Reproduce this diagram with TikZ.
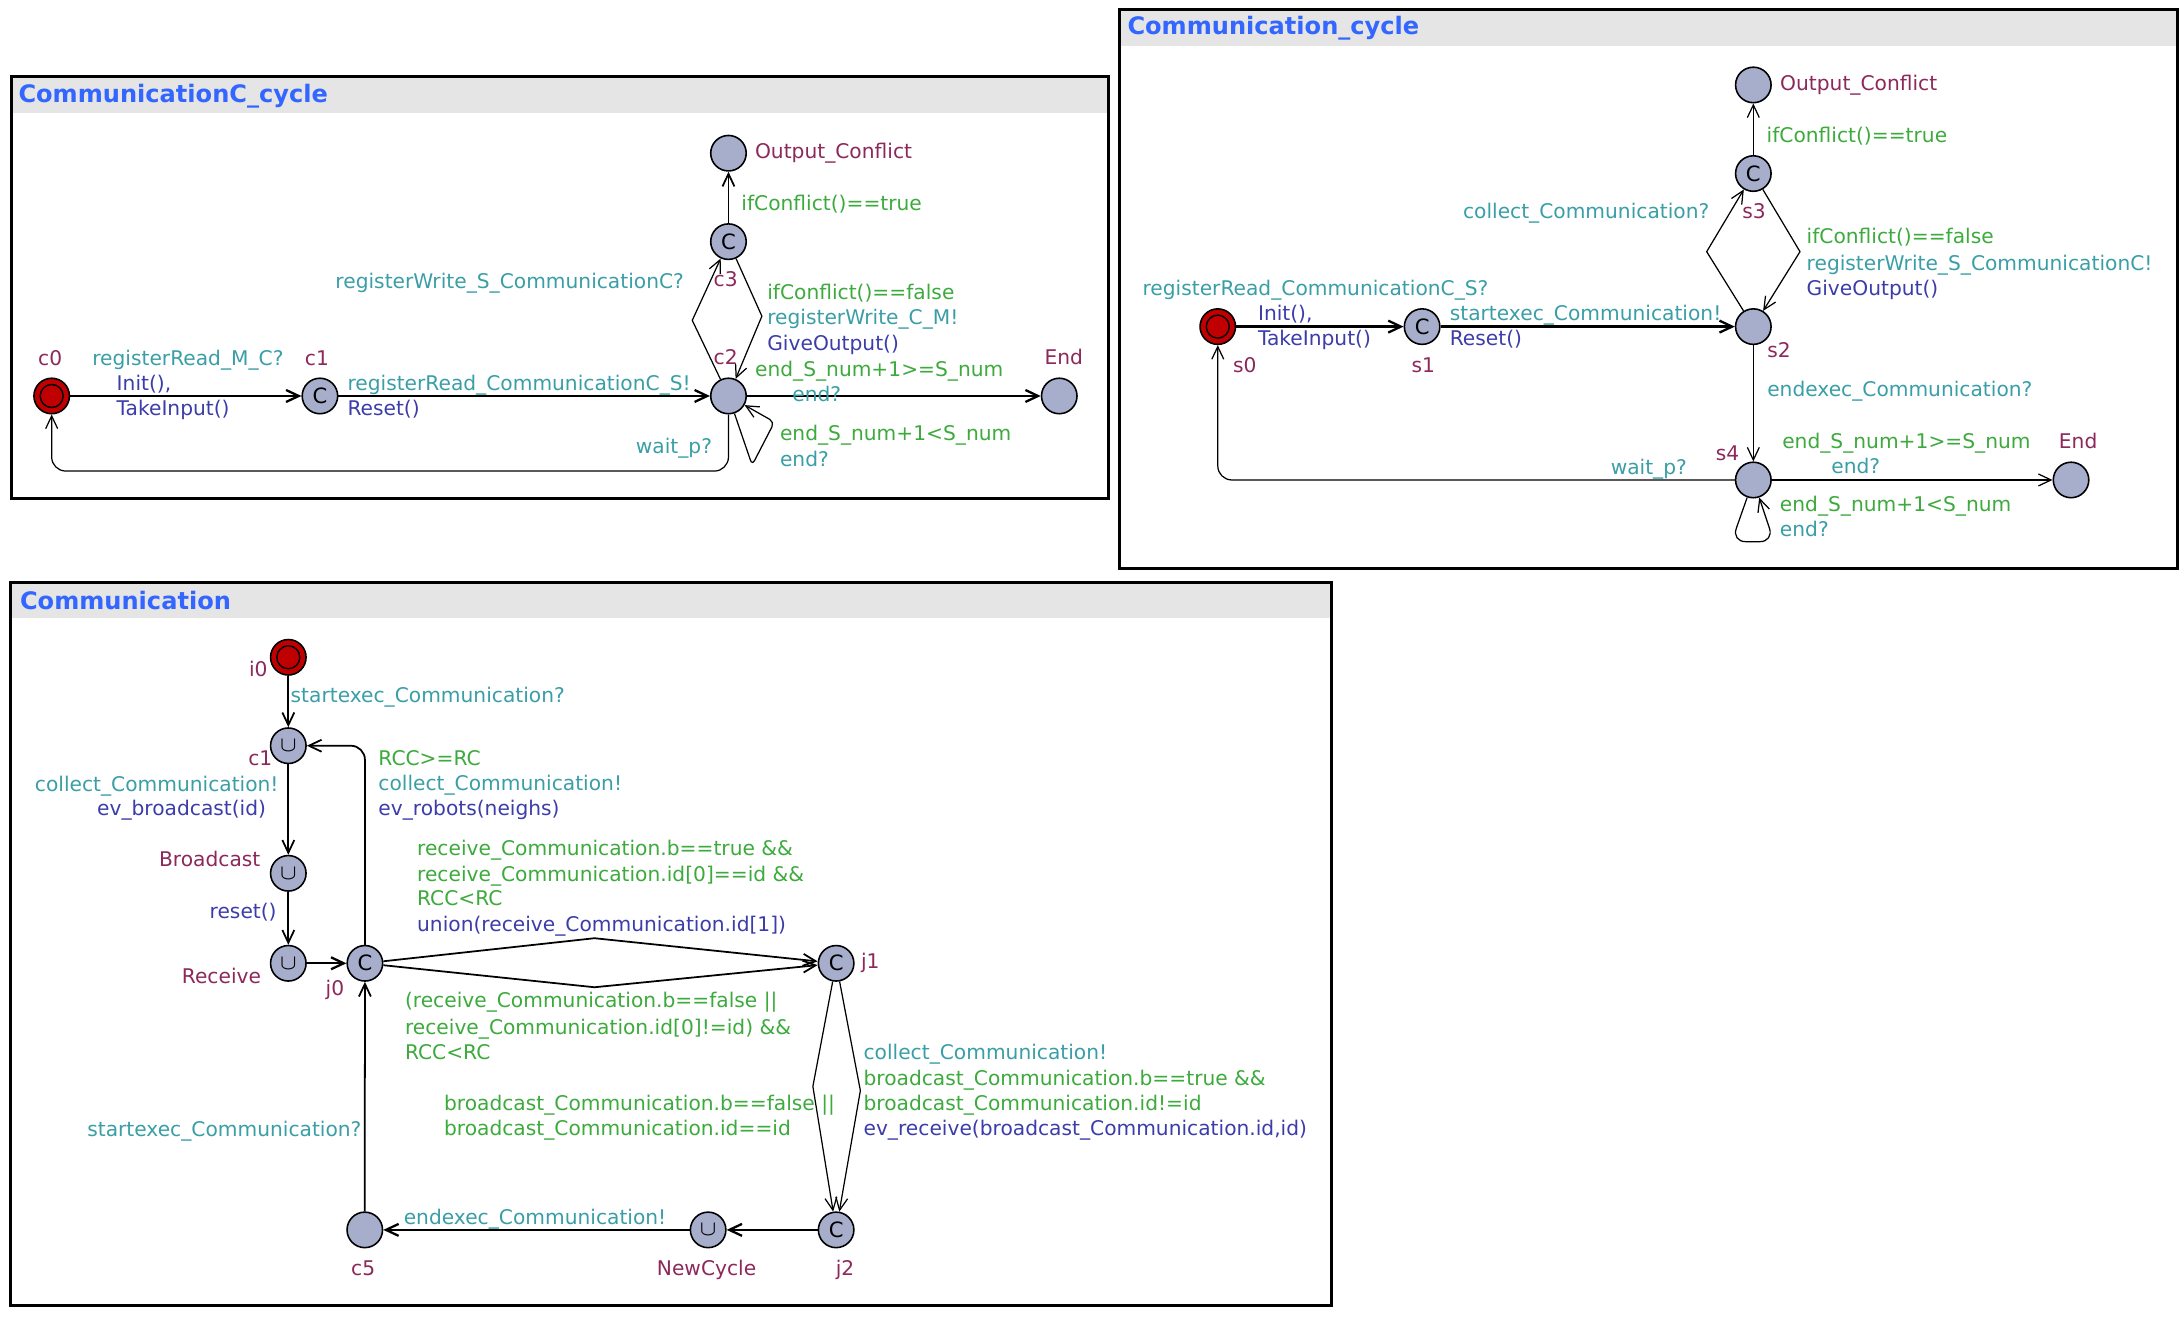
\documentclass[tikz,border=0pt]{standalone}
\usepackage{fontspec}
\setmainfont{DejaVu Sans}
\usetikzlibrary{arrows.meta}
\definecolor{locname}{RGB}{140,40,90}
\definecolor{syncc}{RGB}{58,158,166}
\definecolor{guardc}{RGB}{60,170,60}
\definecolor{updc}{RGB}{60,60,170}
\definecolor{titleblue}{RGB}{51,102,255}
\definecolor{locfill}{RGB}{166,174,204}
\definecolor{initred}{RGB}{192,0,0}
\definecolor{hdrgrey}{RGB}{229,229,229}

\begin{document}
\begin{tikzpicture}[x=0.13929mm, y=-0.13929mm,
  loc/.style={circle, draw, line width=0.45pt, fill=locfill, minimum size=3.55mm, inner sep=0pt, font=\fontsize{6}{6}\selectfont},
  init/.style={loc, fill=initred, path picture={\draw[line width=0.4pt] (path picture bounding box.center) circle (1.15mm);}},
  lbl/.style={inner sep=0pt, text height=4.2pt, text depth=1.2pt, font=\fontsize{5.75}{7}\selectfont},
  nm/.style={lbl, text=locname},
  snc/.style={lbl, text=syncc},
  grd/.style={lbl, text=guardc},
  upd/.style={lbl, text=updc},
  tr/.style={line width=0.35pt, -{Straight Barb[length=3.6pt,width=3.4pt]}},
  trm/.style={tr, line width=0.5pt},
  trb/.style={tr, line width=0.65pt},
  frame/.style={line width=0.85pt},
  ttl/.style={inner sep=0pt, anchor=west, text=titleblue, font=\fontsize{6.85}{8}\selectfont\bfseries}
]
  \useasboundingbox (0,0) rectangle (1568,945);

  % ---------------- CommunicationC_cycle ----------------
  \fill[hdrgrey] (8,55) rectangle (795.5,81.4);
  \draw[frame] (8,55) rectangle (795.5,357.6);
  \node[ttl] (title1) at (12.8,69.4) {CommunicationC\_cycle};
  % locations
  \node[init] (c0) at (37.1,284.3) {};
  \node[loc] (c1) at (229.7,284.3) {C};
  \node[loc] (c2) at (523,284.3) {};
  \node[loc] (c3) at (523,173.5) {C};
  \node[loc] (oc1) at (523,110) {};
  \node[loc] (end1) at (760.5,284.3) {};
  \node[nm] (c0n) at (36,258.5) {c0};
  \node[nm] (c1n) at (227.5,258.5) {c1};
  \node[nm] (c2n) at (521,257.7) {c2};
  \node[nm] (c3n) at (521,202) {c3};
  \node[nm, anchor=west] (oc1n) at (541.6,110) {Output\_Conflict};
  \node[nm] (end1n) at (763.7,257.7) {End};
  % nails
  \coordinate (c2c3) at (497,230);
  \coordinate (c3c2) at (547,227);
  \coordinate (c2la) at (540,334);
  \coordinate (c2lb) at (556,303);
  \coordinate (c2w) at (37.1,338.2);
  % transitions
  \draw[trb] (c0) -- (c1);
  \draw[trb] (c1) -- (c2);
  \draw[tr] (c2) -- (c2c3) -- (c3);
  \draw[tr] (c3) -- (c3c2) -- (c2);
  \draw[trm] (c3) -- (oc1);
  \draw[trb] (c2) -- (end1);
  \draw[tr, rounded corners=1.5pt] (c2) -- (c2la) -- (c2lb) -- (c2);
  \draw[tr, rounded corners=4pt] (c2) -- (c2 |- c2w) -- (c2w) -- (c0);
  % labels
  \node[snc, anchor=west] (c0c1s) at (65.8,258.5) {registerRead\_M\_C?};
  \node[upd, anchor=west] (c0c1u) at (83.3,276.4) {Init(),};
  \node[upd, anchor=west] (c0c1v) at (83.3,294.3) {TakeInput()};
  \node[snc, anchor=west] (c1c2s) at (249,276.4) {registerRead\_CommunicationC\_S!};
  \node[upd, anchor=west] (c1c2u) at (249,294.3) {Reset()};
  \node[snc, anchor=east] (c2c3s) at (491.5,203) {registerWrite\_S\_CommunicationC?};
  \node[grd, anchor=west] (c3ocg) at (531.8,147) {ifConflict()==true};
  \node[grd, anchor=west] (c3c2g) at (550.4,211) {ifConflict()==false};
  \node[snc, anchor=west] (c3c2s) at (550.4,229.3) {registerWrite\_C\_M!};
  \node[upd, anchor=west] (c3c2u) at (550.4,247.7) {GiveOutput()};
  \node[grd, anchor=west] (c2eg) at (541.6,266.8) {end\_S\_num+1>=S\_num};
  \node[snc, anchor=west] (c2es) at (568.4,284.8) {end?};
  \node[grd, anchor=west] (c2lg) at (559.5,312.3) {end\_S\_num+1<S\_num};
  \node[snc, anchor=west] (c2ls) at (559.5,331.5) {end?};
  \node[snc, anchor=east] (c2ws) at (511.7,321.9) {wait\_p?};

  % ---------------- Communication_cycle ----------------
  \fill[hdrgrey] (803.4,6.7) rectangle (1563,32.8);
  \draw[frame] (803.4,6.7) rectangle (1563,408.3);
  \node[ttl] (title2) at (809,20.3) {Communication\_cycle};
  % locations
  \node[init] (s0) at (874.3,234.5) {};
  \node[loc] (s1) at (1021,234.5) {C};
  \node[loc] (s2) at (1258.8,234.5) {};
  \node[loc] (s3) at (1258.8,124.6) {C};
  \node[loc] (oc2) at (1258.8,61) {};
  \node[loc] (s4) at (1258.8,344.6) {};
  \node[loc] (end2) at (1486.9,344.6) {};
  \node[nm, anchor=west] (s0n) at (884.8,263.7) {s0};
  \node[nm, anchor=west] (s1n) at (1012.9,263.7) {s1};
  \node[nm, anchor=west] (s2n) at (1268.3,253.2) {s2};
  \node[nm, anchor=west] (s3n) at (1250.4,153.2) {s3};
  \node[nm, anchor=west] (s4n) at (1231.4,326.7) {s4};
  \node[nm, anchor=west] (oc2n) at (1277.6,61) {Output\_Conflict};
  \node[nm, anchor=west] (end2n) at (1477.7,318.3) {End};
  % nails
  \coordinate (s2s3) at (1225.3,180.7);
  \coordinate (s3s2) at (1292.3,180.7);
  \coordinate (s4la) at (1243.2,388.9);
  \coordinate (s4lb) at (1273.6,388.9);
  % transitions
  \draw[trb] (s0) -- (s1);
  \draw[trb] (s1) -- (s2);
  \draw[tr] (s2) -- (s2s3) -- (s3);
  \draw[tr] (s3) -- (s3s2) -- (s2);
  \draw[tr] (s3) -- (oc2);
  \draw[tr] (s2) -- (s4);
  \draw[tr] (s4) -- (end2);
  \draw[tr, rounded corners=4pt] (s4) -- (s4la) -- (s4lb) -- (s4);
  \draw[tr, rounded corners=4pt] (s4) -- (s0 |- s4) -- (s0);
  % labels
  \node[snc, anchor=west] (s0s1s) at (819.8,208.2) {registerRead\_CommunicationC\_S?};
  \node[upd, anchor=west] (s0s1u) at (902.7,226.1) {Init(),};
  \node[upd, anchor=west] (s0s1v) at (902.7,244.6) {TakeInput()};
  \node[snc, anchor=west] (s1s2s) at (1040.4,226.1) {startexec\_Communication!};
  \node[upd, anchor=west] (s1s2u) at (1040.4,244.6) {Reset()};
  \node[snc, anchor=east] (s2s3s) at (1227.7,153.2) {collect\_Communication?};
  \node[grd, anchor=west] (s3ocg) at (1267.9,98.3) {ifConflict()==true};
  \node[grd, anchor=west] (s3s2g) at (1296.6,171.1) {ifConflict()==false};
  \node[snc, anchor=west] (s3s2s) at (1296.6,190.3) {registerWrite\_S\_CommunicationC!};
  \node[upd, anchor=west] (s3s2u) at (1296.6,208.2) {GiveOutput()};
  \node[snc, anchor=west] (s2s4s) at (1268.3,281.2) {endexec\_Communication?};
  \node[grd, anchor=west] (s4eg) at (1279.1,318.3) {end\_S\_num+1>=S\_num};
  \node[snc, anchor=west] (s4es) at (1314.3,336.2) {end?};
  \node[grd, anchor=west] (s4lg) at (1277.4,363.3) {end\_S\_num+1<S\_num};
  \node[snc, anchor=west] (s4ls) at (1277.4,381.7) {end?};
  \node[snc, anchor=east] (s4ws) at (1211.6,337) {wait\_p?};

  % ---------------- Communication ----------------
  \fill[hdrgrey] (7.6,418) rectangle (955.6,443.5);
  \draw[frame] (7.6,418) rectangle (955.6,937);
  \node[ttl] (title3) at (13.9,431.3) {Communication};
  % locations
  \node[init] (i0) at (207,471.9) {};
  \node[loc] (cc1) at (207,535.4) {$\cup$};
  \node[loc] (bc) at (207,627) {$\cup$};
  \node[loc] (rc) at (207,691.6) {$\cup$};
  \node[loc] (j0) at (262,691.6) {C};
  \node[loc] (j1) at (600.3,691.6) {C};
  \node[loc] (j2) at (600.3,883) {C};
  \node[loc] (nc) at (508.4,883) {$\cup$};
  \node[loc] (c5) at (261.9,883) {};
  \node[nm, anchor=east] (i0n) at (192.6,482.2) {i0};
  \node[nm, anchor=east] (cc1n) at (196,545.6) {c1};
  \node[nm, anchor=east] (bcn) at (187.4,618.6) {Broadcast};
  \node[nm, anchor=east] (rcn) at (187.9,702.4) {Receive};
  \node[nm] (j0n) at (240.5,710.8) {j0};
  \node[nm, anchor=west] (j1n) at (617.7,691.6) {j1};
  \node[nm] (j2n) at (606.7,911.8) {j2};
  \node[nm] (ncn) at (507.3,911.8) {NewCycle};
  \node[nm] (c5n) at (260.7,911.8) {c5};
  % nails
  \coordinate (j0j1a) at (426.8,673.6);
  \coordinate (j0j1b) at (426.8,708.8);
  \coordinate (j1j2a) at (583.6,780);
  \coordinate (j1j2b) at (617.7,783);
  % transitions
  \draw[trm] (i0) -- (cc1);
  \draw[trm] (cc1) -- (bc);
  \draw[trm] (bc) -- (rc);
  \draw[trb] (rc) -- (j0);
  \draw[trm, rounded corners=4pt] (j0) |- (cc1);
  \draw[trm] (j0) -- (j0j1a) -- (j1);
  \draw[trm] (j0) -- (j0j1b) -- (j1);
  \draw[tr] (j1) -- (j1j2a) -- (j2);
  \draw[tr] (j1) -- (j1j2b) -- (j2);
  \draw[trb] (j2) -- (nc);
  \draw[trb] (nc) -- (c5);
  \draw[trm] (c5) -- (j0);
  % labels
  \node[snc, anchor=west] (i0cs) at (208.2,500.6) {startexec\_Communication?};
  \node[snc, anchor=east] (cbs) at (200.5,564.3) {collect\_Communication!};
  \node[upd, anchor=east] (cbu) at (191.5,581.5) {ev\_broadcast(id)};
  \node[upd, anchor=east] (bru) at (199.1,655.7) {reset()};
  \node[grd, anchor=west] (j0cg) at (271.2,545.6) {RCC>=RC};
  \node[snc, anchor=west] (j0cs) at (271.2,564) {collect\_Communication!};
  \node[upd, anchor=west] (j0cu) at (271.2,582) {ev\_robots(neighs)};
  \node[grd, anchor=west] (jag1) at (299,610.2) {receive\_Communication.b==true \&\&};
  \node[grd, anchor=west] (jag2) at (299,628.9) {receive\_Communication.id[0]==id \&\&};
  \node[grd, anchor=west] (jag3) at (299,646.2) {RCC<RC};
  \node[upd, anchor=west] (jau) at (299,665.3) {union(receive\_Communication.id[1])};
  \node[grd, anchor=west] (jbg1) at (290.3,719.8) {(receive\_Communication.b==false ||};
  \node[grd, anchor=west] (jbg2) at (290.3,739) {receive\_Communication.id[0]!=id) \&\&};
  \node[grd, anchor=west] (jbg3) at (290.3,756.7) {RCC<RC};
  \node[grd, anchor=west] (jcg1) at (318.3,793.3) {broadcast\_Communication.b==false ||};
  \node[grd, anchor=west] (jcg2) at (318.3,811.3) {broadcast\_Communication.id==id};
  \node[snc, anchor=west] (jds) at (619.5,756.7) {collect\_Communication!};
  \node[grd, anchor=west] (jdg1) at (619.5,775.4) {broadcast\_Communication.b==true \&\&};
  \node[grd, anchor=west] (jdg2) at (619.5,793.3) {broadcast\_Communication.id!=id};
  \node[upd, anchor=west] (jdu) at (619.5,811.7) {ev\_receive(broadcast\_Communication.id,id)};
  \node[snc, anchor=west] (ncs) at (289.4,875.4) {endexec\_Communication!};
  \node[snc, anchor=east] (c5s) at (260,812) {startexec\_Communication?};
\end{tikzpicture}
\end{document}
